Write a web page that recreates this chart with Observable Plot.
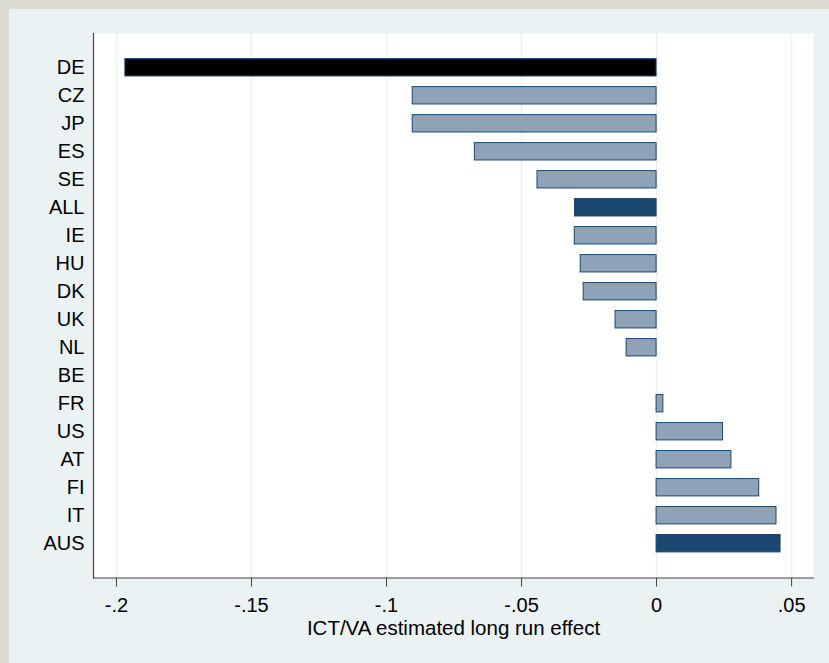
<!DOCTYPE html>
<html>
<head>
<meta charset="utf-8">
<script src="https://cdn.jsdelivr.net/npm/d3@7"></script>
<script src="https://cdn.jsdelivr.net/npm/@observablehq/plot@0.6"></script>
<style>
  html, body { margin: 0; padding: 0; background: #dddcd1; }
  #chart { position: absolute; left: 9px; top: 9px; width: 820px; height: 654px; background: #eaf2f3; }
  #chart svg { display: block; background: transparent; }
</style>
</head>
<body>
<div id="chart"></div>
<script>
// Countries, top to bottom
const countries = ["DE", "CZ", "JP", "ES", "SE", "ALL", "IE", "HU", "DK", "UK", "NL", "BE", "FR", "US", "AT", "FI", "IT", "AUS"];
// Estimated long run effect of ICT/VA
const effects = [-0.1967, -0.0903, -0.0903, -0.0673, -0.0441, -0.0302, -0.0303, -0.0281, -0.0270, -0.0152, -0.0111, 0, 0.0025, 0.0246, 0.0277, 0.0380, 0.0444, 0.0459];
// Bar groups (highlighted extremes and the pooled estimate)
const groups = ["lowest", "country", "country", "country", "country", "pooled", "country", "country", "country", "country", "country", "country", "country", "country", "country", "country", "country", "highest"];
const groupNames = ["lowest", "country", "pooled", "highest"];
const groupFills = ["#000000", "#8ea3b8", "#1a476f", "#1a476f"];

// Axis ticks
const xTicks = [-0.2, -0.15, -0.1, -0.05, 0, 0.05];
const xTickLabels = ["-.2", "-.15", "-.1", "-.05", "0", ".05"];
const xTitle = "ICT/VA estimated long run effect";

const data = countries.map((c, i) => ({country: c, effect: effects[i], group: groups[i]}));

const axisColor = "#444444";

const chart = Plot.plot({
  width: 820,
  height: 654,
  marginLeft: 84,
  marginRight: 16,
  marginTop: 24,
  marginBottom: 85.5,
  style: {
    fontFamily: "'Liberation Sans', Arial, Helvetica, sans-serif",
    fontSize: "20px",
    background: "transparent",
    color: "#000"
  },
  x: {domain: [-0.2085, 0.0581]},
  y: {domain: countries, paddingInner: 0.38, paddingOuter: 0.915, round: false},
  color: {domain: groupNames, range: groupFills},
  marks: [
    Plot.frame({fill: "white", stroke: null}),
    Plot.gridX(xTicks, {stroke: "#eaf2f3", strokeOpacity: 1, strokeWidth: 1.6}),
    Plot.barX(data, {x: "effect", y: "country", fill: "group", stroke: "#1a476f", strokeWidth: 1}),
    Plot.frame({anchor: "left", stroke: axisColor, strokeWidth: 1.2}),
    Plot.frame({anchor: "bottom", stroke: axisColor, strokeWidth: 1.2}),
    Plot.axisY({tickSize: 0, tickPadding: 9, label: null, fontSize: 20, fill: "#000"}),
    Plot.axisX(xTicks, {
      tickSize: 9,
      tickPadding: 11,
      label: null,
      fontSize: 20,
      stroke: axisColor,
      fill: "#000",
      tickFormat: d => xTickLabels[xTicks.indexOf(d)]
    }),
    Plot.text([xTitle], {text: d => d, frameAnchor: "bottom", dy: 42.5, lineAnchor: "top", fontSize: 20.5, fill: "#000"})
  ]
});

document.getElementById("chart").appendChild(chart);
</script>
</body>
</html>
